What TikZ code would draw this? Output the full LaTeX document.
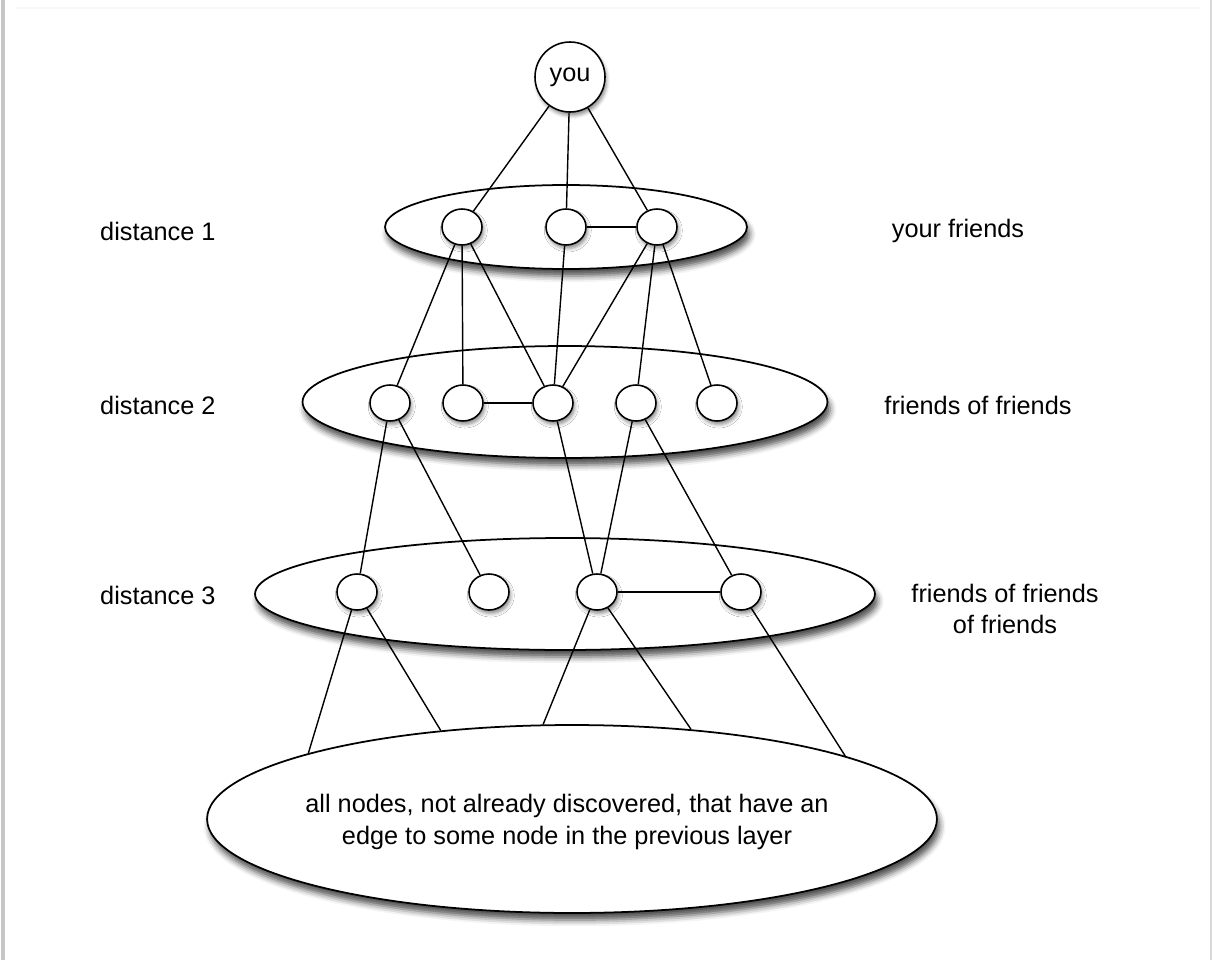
\documentclass[tikz,border=0pt]{standalone}
\usepackage{fontspec}
\setmainfont{Liberation Sans}
\usepackage{tikz}
\usetikzlibrary{shapes.geometric,shadows.blur}
\tikzstyle{layer}=[ellipse,draw,line width=1pt,fill=white,inner sep=0pt,blur shadow={shadow xshift=1.5pt,shadow yshift=-4pt,shadow blur radius=3.5pt,shadow opacity=70}]
\tikzstyle{person}=[ellipse,draw,line width=0.9pt,fill=white,inner sep=0pt,minimum width=0.8cm,minimum height=0.72cm,blur shadow={shadow xshift=1pt,shadow yshift=-2pt,shadow blur radius=2pt,shadow opacity=45}]
\tikzstyle{link}=[line width=0.8pt]
\tikzstyle{lbl}=[font=\fontsize{14.4}{18}\selectfont]

\begin{document}
\begin{tikzpicture}[x=0.02cm,y=-0.02cm]
  \useasboundingbox (0,0) rectangle (1214,960);
  % page edges
  \draw[gray!45,line width=2pt] (3,0) -- (3,960);
  \draw[gray!30,line width=1pt] (1211,0) -- (1211,960);
  \draw[gray!5,line width=0.6pt] (16,8) -- (1200,8);
  % layers
  \node[layer,minimum width=7.24cm,minimum height=1.68cm] (l1) at (566,227) {};
  \node[layer,minimum width=10.5cm,minimum height=2.24cm] (l2) at (565,402) {};
  \node[layer,minimum width=12.4cm,minimum height=2.24cm] (l3) at (565,594) {};
  \node[layer,minimum width=14.6cm,minimum height=3.76cm] (rest) at (572,819) {};
  \node[lbl,align=center] (resttext) at (567,822) {all nodes, not already discovered, that have an\\edge to some node in the previous layer};
  % people
  \node[person,minimum width=1.4cm,minimum height=1.4cm,lbl] (you) at (570,77) {you};
  \foreach \x [count=\i] in {462,566,657} {
    \node[person] (a\i) at (\x,227) {};
  }
  \foreach \x [count=\i] in {390,463,553,636,717} {
    \node[person] (b\i) at (\x,403) {};
  }
  \foreach \x [count=\i] in {357,489,597,741} {
    \node[person] (c\i) at (\x,592) {};
  }
  % edges
  \foreach \i in {1,2,3} {
    \draw[link] (you) -- (a\i);
  }
  \draw[link] (a2) -- (a3);
  \draw[link] (a1) -- (b1);
  \draw[link] (a1) -- (b2);
  \draw[link] (a1) -- (b3);
  \draw[link] (a2) -- (b3);
  \draw[link] (a3) -- (b3);
  \draw[link] (a3) -- (b4);
  \draw[link] (a3) -- (b5);
  \draw[link] (b2) -- (b3);
  \draw[link] (b1) -- (c1);
  \draw[link] (b1) -- (c2);
  \draw[link] (b3) -- (c3);
  \draw[link] (b4) -- (c3);
  \draw[link] (b4) -- (c4);
  \draw[link] (c3) -- (c4);
  \draw[link] (c1) -- (rest.166.3);
  \draw[link] (c1) -- (rest.146);
  \draw[link] (c3) -- (rest.107.9);
  \draw[link] (c3) -- (rest.37.2);
  \draw[link] (c4) -- (rest.13.1);
  % labels
  \node[lbl,anchor=west] (d1) at (94,231) {distance 1};
  \node[lbl,anchor=west] (d2) at (94,405) {distance 2};
  \node[lbl,anchor=west] (d3) at (94,595) {distance 3};
  \node[lbl] (f1) at (958,231) {your friends};
  \node[lbl] (f2) at (978,405) {friends of friends};
  \node[lbl,align=center] (f3) at (1005,609) {friends of friends\\of friends};
\end{tikzpicture}
\end{document}
